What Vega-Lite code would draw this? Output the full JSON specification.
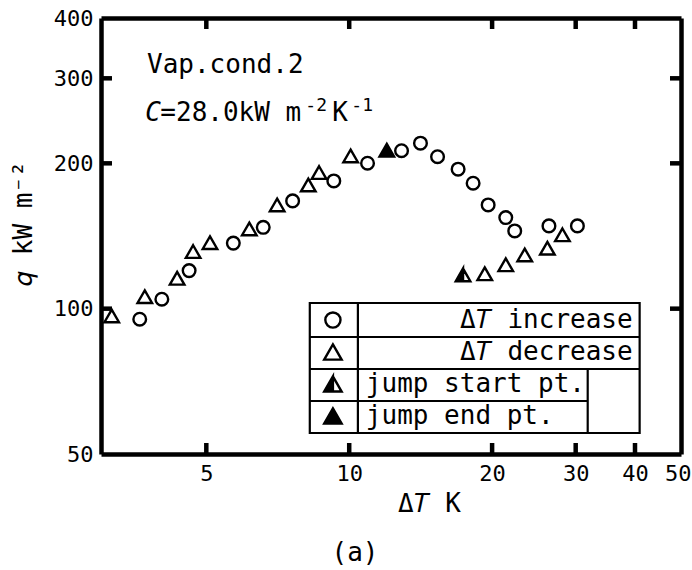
{
  "$schema": "https://vega.github.io/schema/vega-lite/v6.json",
  "width": 580,
  "height": 436,
  "autosize": {"type": "none"},
  "padding": {"left": 101, "top": 18, "right": 11, "bottom": 116},
  "background": "white",
  "title": {"text": "(a)", "orient": "bottom", "font": "DejaVu Sans Mono", "fontSize": 26, "fontWeight": "normal", "color": "black", "anchor": "middle", "dx": -36, "offset": 24},
  "config": {
    "view": {"stroke": null},
    "axis": {
      "domainColor": "black", "labelColor": "black", "titleColor": "black",
      "domainWidth": 4.5,
      "ticks": false,
      "grid": false,
      "labelFlush": false,
      "labelFont": "DejaVu Sans Mono", "labelFontSize": 22,
      "titleFont": "DejaVu Sans Mono", "titleFontSize": 26, "titleFontWeight": "normal"
    },
    "rule": {"color": "black", "strokeWidth": 2.2},
    "text": {"font": "DejaVu Sans Mono", "fontSize": 26, "color": "black", "baseline": "alphabetic", "align": "left"}
  },
  "datasets": {
    "obs": [
      {"dT": 3.62, "q": 95.1, "series": "Δ𝑇 increase"},
      {"dT": 4.03, "q": 104.6, "series": "Δ𝑇 increase"},
      {"dT": 4.60, "q": 119.9, "series": "Δ𝑇 increase"},
      {"dT": 5.70, "q": 136.7, "series": "Δ𝑇 increase"},
      {"dT": 6.59, "q": 147.4, "series": "Δ𝑇 increase"},
      {"dT": 7.60, "q": 167.2, "series": "Δ𝑇 increase"},
      {"dT": 9.28, "q": 183.9, "series": "Δ𝑇 increase"},
      {"dT": 10.93, "q": 200.1, "series": "Δ𝑇 increase"},
      {"dT": 12.89, "q": 212.4, "series": "Δ𝑇 increase"},
      {"dT": 14.13, "q": 220.2, "series": "Δ𝑇 increase"},
      {"dT": 15.35, "q": 206.4, "series": "Δ𝑇 increase"},
      {"dT": 16.96, "q": 194.5, "series": "Δ𝑇 increase"},
      {"dT": 18.24, "q": 181.9, "series": "Δ𝑇 increase"},
      {"dT": 19.62, "q": 164.0, "series": "Δ𝑇 increase"},
      {"dT": 21.37, "q": 154.4, "series": "Δ𝑇 increase"},
      {"dT": 22.32, "q": 144.9, "series": "Δ𝑇 increase"},
      {"dT": 26.35, "q": 148.4, "series": "Δ𝑇 increase"},
      {"dT": 30.25, "q": 148.4, "series": "Δ𝑇 increase"},
      {"dT": 3.16, "q": 96.6, "series": "Δ𝑇 decrease"},
      {"dT": 3.71, "q": 105.9, "series": "Δ𝑇 decrease"},
      {"dT": 4.34, "q": 115.6, "series": "Δ𝑇 decrease"},
      {"dT": 4.69, "q": 131.3, "series": "Δ𝑇 decrease"},
      {"dT": 5.09, "q": 137.0, "series": "Δ𝑇 decrease"},
      {"dT": 6.16, "q": 146.3, "series": "Δ𝑇 decrease"},
      {"dT": 7.05, "q": 164.0, "series": "Δ𝑇 decrease"},
      {"dT": 8.20, "q": 180.4, "series": "Δ𝑇 decrease"},
      {"dT": 8.64, "q": 191.4, "series": "Δ𝑇 decrease"},
      {"dT": 10.07, "q": 207.2, "series": "Δ𝑇 decrease"},
      {"dT": 19.30, "q": 118.1, "series": "Δ𝑇 decrease"},
      {"dT": 21.37, "q": 123.3, "series": "Δ𝑇 decrease"},
      {"dT": 23.43, "q": 129.2, "series": "Δ𝑇 decrease"},
      {"dT": 26.15, "q": 133.4, "series": "Δ𝑇 decrease"},
      {"dT": 28.13, "q": 142.2, "series": "Δ𝑇 decrease"},
      {"dT": 17.37, "q": 117.5, "series": "jump start pt."},
      {"dT": 12.0, "q": 213.0, "series": "jump end pt."}
    ]
  },
  "layer": [
    {
      "data": {"values": [{"part": "legend frame"}]},
      "mark": {"type": "rect", "fill": "white", "stroke": "black", "strokeWidth": 2.2},
      "encoding": {
        "x": {"datum": 8.26, "type": "quantitative", "scale": {"type": "log", "domain": [3, 50], "nice": false}, "axis": null},
        "x2": {"datum": 40.91},
        "y": {"datum": 102.74, "type": "quantitative", "scale": {"type": "log", "domain": [50, 400], "nice": false}, "axis": null},
        "y2": {"datum": 55.27}
      }
    },
    {"data": {"values": [{"part": "symbol column edge"}]}, "mark": "rule",
     "encoding": {"x": {"datum": 10.43, "type": "quantitative", "axis": null}, "y": {"datum": 102.74, "type": "quantitative", "axis": null}, "y2": {"datum": 55.27}}},
    {"data": {"values": [{"part": "row line 1"}]}, "mark": "rule",
     "encoding": {"x": {"datum": 8.26, "type": "quantitative", "axis": null}, "x2": {"datum": 40.91}, "y": {"datum": 87.37, "type": "quantitative", "axis": null}}},
    {"data": {"values": [{"part": "row line 2"}]}, "mark": "rule",
     "encoding": {"x": {"datum": 8.26, "type": "quantitative", "axis": null}, "x2": {"datum": 40.91}, "y": {"datum": 75.0, "type": "quantitative", "axis": null}}},
    {"data": {"values": [{"part": "row line 3"}]}, "mark": "rule",
     "encoding": {"x": {"datum": 8.26, "type": "quantitative", "axis": null}, "x2": {"datum": 31.8}, "y": {"datum": 64.38, "type": "quantitative", "axis": null}}},
    {"data": {"values": [{"part": "short label cell edge"}]}, "mark": "rule",
     "encoding": {"x": {"datum": 31.8, "type": "quantitative", "axis": null}, "y": {"datum": 75.0, "type": "quantitative", "axis": null}, "y2": {"datum": 55.27}}},

    {"data": {"values": [{"tick": "bottom 5"}]}, "mark": {"type": "rule", "strokeWidth": 4.5},
     "encoding": {"x": {"datum": 5, "type": "quantitative", "axis": null}, "y": {"datum": 50, "type": "quantitative", "axis": null}, "y2": {"datum": 52.7}}},
    {"data": {"values": [{"tick": "bottom 10"}]}, "mark": {"type": "rule", "strokeWidth": 4.5},
     "encoding": {"x": {"datum": 10, "type": "quantitative", "axis": null}, "y": {"datum": 50, "type": "quantitative", "axis": null}, "y2": {"datum": 52.7}}},
    {"data": {"values": [{"tick": "bottom 20"}]}, "mark": {"type": "rule", "strokeWidth": 4.5},
     "encoding": {"x": {"datum": 20, "type": "quantitative", "axis": null}, "y": {"datum": 50, "type": "quantitative", "axis": null}, "y2": {"datum": 52.7}}},
    {"data": {"values": [{"tick": "bottom 30"}]}, "mark": {"type": "rule", "strokeWidth": 4.5},
     "encoding": {"x": {"datum": 30, "type": "quantitative", "axis": null}, "y": {"datum": 50, "type": "quantitative", "axis": null}, "y2": {"datum": 52.7}}},
    {"data": {"values": [{"tick": "bottom 40"}]}, "mark": {"type": "rule", "strokeWidth": 4.5},
     "encoding": {"x": {"datum": 40, "type": "quantitative", "axis": null}, "y": {"datum": 50, "type": "quantitative", "axis": null}, "y2": {"datum": 52.7}}},

    {"data": {"values": [{"tick": "top 5"}]}, "mark": {"type": "rule", "strokeWidth": 4.5},
     "encoding": {"x": {"datum": 5, "type": "quantitative", "axis": null}, "y": {"datum": 400, "type": "quantitative", "axis": null}, "y2": {"datum": 379.5}}},
    {"data": {"values": [{"tick": "top 10"}]}, "mark": {"type": "rule", "strokeWidth": 4.5},
     "encoding": {"x": {"datum": 10, "type": "quantitative", "axis": null}, "y": {"datum": 400, "type": "quantitative", "axis": null}, "y2": {"datum": 379.5}}},
    {"data": {"values": [{"tick": "top 20"}]}, "mark": {"type": "rule", "strokeWidth": 4.5},
     "encoding": {"x": {"datum": 20, "type": "quantitative", "axis": null}, "y": {"datum": 400, "type": "quantitative", "axis": null}, "y2": {"datum": 379.5}}},
    {"data": {"values": [{"tick": "top 30"}]}, "mark": {"type": "rule", "strokeWidth": 4.5},
     "encoding": {"x": {"datum": 30, "type": "quantitative", "axis": null}, "y": {"datum": 400, "type": "quantitative", "axis": null}, "y2": {"datum": 379.5}}},
    {"data": {"values": [{"tick": "top 40"}]}, "mark": {"type": "rule", "strokeWidth": 4.5},
     "encoding": {"x": {"datum": 40, "type": "quantitative", "axis": null}, "y": {"datum": 400, "type": "quantitative", "axis": null}, "y2": {"datum": 379.5}}},

    {"data": {"values": [{"tick": "left 100"}]}, "mark": {"type": "rule", "strokeWidth": 4.5},
     "encoding": {"y": {"datum": 100, "type": "quantitative", "axis": null}, "x": {"datum": 3, "type": "quantitative", "axis": null}, "x2": {"datum": 3.164}}},
    {"data": {"values": [{"tick": "left 200"}]}, "mark": {"type": "rule", "strokeWidth": 4.5},
     "encoding": {"y": {"datum": 200, "type": "quantitative", "axis": null}, "x": {"datum": 3, "type": "quantitative", "axis": null}, "x2": {"datum": 3.164}}},
    {"data": {"values": [{"tick": "left 300"}]}, "mark": {"type": "rule", "strokeWidth": 4.5},
     "encoding": {"y": {"datum": 300, "type": "quantitative", "axis": null}, "x": {"datum": 3, "type": "quantitative", "axis": null}, "x2": {"datum": 3.164}}},

    {"data": {"values": [{"tick": "right 100"}]}, "mark": {"type": "rule", "strokeWidth": 4.5},
     "encoding": {"y": {"datum": 100, "type": "quantitative", "axis": null}, "x": {"datum": 50, "type": "quantitative", "axis": null}, "x2": {"datum": 47.4}}},
    {"data": {"values": [{"tick": "right 200"}]}, "mark": {"type": "rule", "strokeWidth": 4.5},
     "encoding": {"y": {"datum": 200, "type": "quantitative", "axis": null}, "x": {"datum": 50, "type": "quantitative", "axis": null}, "x2": {"datum": 47.4}}},
    {"data": {"values": [{"tick": "right 300"}]}, "mark": {"type": "rule", "strokeWidth": 4.5},
     "encoding": {"y": {"datum": 300, "type": "quantitative", "axis": null}, "x": {"datum": 50, "type": "quantitative", "axis": null}, "x2": {"datum": 47.4}}},

    {
      "data": {"name": "obs"},
      "mark": {"type": "point", "filled": true, "stroke": "black", "strokeWidth": 2.4, "size": 160, "opacity": 1},
      "encoding": {
        "x": {
          "field": "dT", "type": "quantitative",
          "scale": {"type": "log", "domain": [3, 50], "nice": false},
          "axis": {"orient": "bottom", "values": [5, 10, 20, 30, 40, 50], "format": "d",
                   "labelPadding": 9, "labelFlush": true, "labelFlushOffset": 10,
                   "title": "Δ𝑇 K", "titleX": 328, "titlePadding": 6}
        },
        "y": {
          "field": "q", "type": "quantitative",
          "scale": {"type": "log", "domain": [50, 400], "nice": false},
          "axis": {"orient": "left", "values": [50, 100, 200, 300, 400], "format": "d",
                   "labelPadding": 8, "title": "𝑞 kW m⁻²", "titleY": 205, "titlePadding": 17}
        },
        "shape": {
          "field": "series", "type": "nominal",
          "scale": {
            "domain": ["Δ𝑇 increase", "Δ𝑇 decrease", "jump start pt.", "jump end pt."],
            "range": [
              "circle",
              "M0,-1L1.15,1L-1.15,1Z",
              "M0,-1L1.15,1L-1.15,1ZM0,-1L-1.15,1L1.15,1ZM0,-1L-1.15,1L0,1Z",
              "M0,-1L1.15,1L-1.15,1Z"
            ]
          },
          "legend": null
        },
        "fill": {
          "field": "series", "type": "nominal",
          "scale": {
            "domain": ["Δ𝑇 increase", "Δ𝑇 decrease", "jump start pt.", "jump end pt."],
            "range": ["transparent", "transparent", "black", "black"]
          },
          "legend": null
        }
      }
    },
    {
      "data": {"values": [{"key": "Δ𝑇 increase"}]},
      "mark": {"type": "point", "filled": true, "stroke": "black", "strokeWidth": 2.4, "size": 230, "opacity": 1},
      "encoding": {
        "x": {"datum": 9.24, "type": "quantitative", "axis": null},
        "y": {"datum": 94.72, "type": "quantitative", "axis": null},
        "shape": {"field": "key", "type": "nominal", "legend": null},
        "fill": {"field": "key", "type": "nominal", "legend": null}
      }
    },
    {
      "data": {"values": [{"key": "Δ𝑇 decrease"}]},
      "mark": {"type": "point", "filled": true, "stroke": "black", "strokeWidth": 2.4, "size": 230, "opacity": 1},
      "encoding": {
        "x": {"datum": 9.24, "type": "quantitative", "axis": null},
        "y": {"datum": 81.33, "type": "quantitative", "axis": null},
        "shape": {"field": "key", "type": "nominal", "legend": null},
        "fill": {"field": "key", "type": "nominal", "legend": null}
      }
    },
    {
      "data": {"values": [{"key": "jump start pt."}]},
      "mark": {"type": "point", "filled": true, "stroke": "black", "strokeWidth": 2.4, "size": 230, "opacity": 1},
      "encoding": {
        "x": {"datum": 9.24, "type": "quantitative", "axis": null},
        "y": {"datum": 69.82, "type": "quantitative", "axis": null},
        "shape": {"field": "key", "type": "nominal", "legend": null},
        "fill": {"field": "key", "type": "nominal", "legend": null}
      }
    },
    {
      "data": {"values": [{"key": "jump end pt."}]},
      "mark": {"type": "point", "filled": true, "stroke": "black", "strokeWidth": 2.4, "size": 230, "opacity": 1},
      "encoding": {
        "x": {"datum": 9.24, "type": "quantitative", "axis": null},
        "y": {"datum": 59.94, "type": "quantitative", "axis": null},
        "shape": {"field": "key", "type": "nominal", "legend": null},
        "fill": {"field": "key", "type": "nominal", "legend": null}
      }
    },
    {
      "data": {"values": [{"key": "Δ𝑇 increase"}]},
      "mark": {"type": "text", "align": "right", "baseline": "middle"},
      "encoding": {
        "text": {"field": "key"},
        "x": {"datum": 39.55, "type": "quantitative", "axis": null},
        "y": {"datum": 94.72, "type": "quantitative", "axis": null}
      }
    },
    {
      "data": {"values": [{"key": "Δ𝑇 decrease"}]},
      "mark": {"type": "text", "align": "right", "baseline": "middle"},
      "encoding": {
        "text": {"field": "key"},
        "x": {"datum": 39.55, "type": "quantitative", "axis": null},
        "y": {"datum": 81.33, "type": "quantitative", "axis": null}
      }
    },
    {
      "data": {"values": [{"key": "jump start pt."}]},
      "mark": {"type": "text", "align": "left", "baseline": "middle"},
      "encoding": {
        "text": {"field": "key"},
        "x": {"datum": 10.84, "type": "quantitative", "axis": null},
        "y": {"datum": 69.82, "type": "quantitative", "axis": null}
      }
    },
    {
      "data": {"values": [{"key": "jump end pt."}]},
      "mark": {"type": "text", "align": "left", "baseline": "middle"},
      "encoding": {
        "text": {"field": "key"},
        "x": {"datum": 10.84, "type": "quantitative", "axis": null},
        "y": {"datum": 59.94, "type": "quantitative", "axis": null}
      }
    },
    {
      "data": {"values": [{"note": "Vap.cond.2"}]},
      "mark": {"type": "text"},
      "encoding": {
        "text": {"field": "note"},
        "x": {"datum": 3.75, "type": "quantitative",
              "axis": {"orient": "top", "values": [5, 10, 20, 30, 40], "labels": false, "title": null}},
        "y": {"datum": 307.7, "type": "quantitative",
              "axis": {"orient": "right", "values": [100, 200, 300], "labels": false, "title": null}}
      }
    },
    {
      "data": {"values": [{"note": "C"}]},
      "mark": {"type": "text", "fontStyle": "italic"},
      "encoding": {
        "text": {"field": "note"},
        "x": {"datum": 3.72, "type": "quantitative", "axis": null},
        "y": {"datum": 245.1, "type": "quantitative", "axis": null}
      }
    },
    {
      "data": {"values": [{"note": "=28.0kW m"}]},
      "mark": {"type": "text", "dx": 15},
      "encoding": {
        "text": {"field": "note"},
        "x": {"datum": 3.72, "type": "quantitative", "axis": null},
        "y": {"datum": 245.1, "type": "quantitative", "axis": null}
      }
    },
    {
      "data": {"values": [{"note": "-2"}]},
      "mark": {"type": "text", "fontSize": 18, "dx": 160, "dy": -10},
      "encoding": {
        "text": {"field": "note"},
        "x": {"datum": 3.72, "type": "quantitative", "axis": null},
        "y": {"datum": 245.1, "type": "quantitative", "axis": null}
      }
    },
    {
      "data": {"values": [{"note": "K"}]},
      "mark": {"type": "text", "dx": 187},
      "encoding": {
        "text": {"field": "note"},
        "x": {"datum": 3.72, "type": "quantitative", "axis": null},
        "y": {"datum": 245.1, "type": "quantitative", "axis": null}
      }
    },
    {
      "data": {"values": [{"note": "-1"}]},
      "mark": {"type": "text", "fontSize": 18, "dx": 206, "dy": -10},
      "encoding": {
        "text": {"field": "note"},
        "x": {"datum": 3.72, "type": "quantitative", "axis": null},
        "y": {"datum": 245.1, "type": "quantitative", "axis": null}
      }
    }
  ],
  "resolve": {"axis": {"x": "independent", "y": "independent"}}
}
